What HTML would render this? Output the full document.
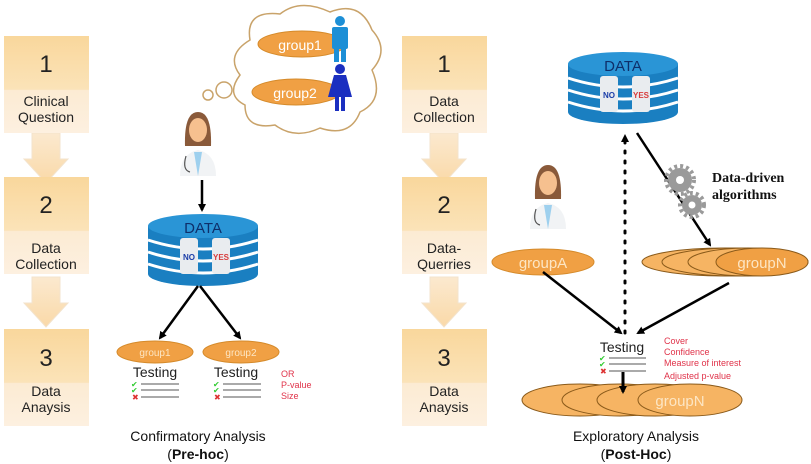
<!DOCTYPE html>
<html><head><meta charset="utf-8"><style>
html,body{margin:0;padding:0;background:#fff;}
svg{display:block;font-family:"Liberation Sans",sans-serif;}
</style></head><body>
<svg width="811" height="464" viewBox="0 0 811 464" xmlns="http://www.w3.org/2000/svg">
<defs>
<linearGradient id="bx" x1="0" y1="0" x2="0" y2="1">
<stop offset="0" stop-color="#f9d79c"/><stop offset="0.55" stop-color="#fbe3b8"/><stop offset="0.56" stop-color="#fcebd3"/><stop offset="1" stop-color="#fdf0e0"/></linearGradient>
<linearGradient id="ar" x1="0" y1="0" x2="0" y2="1"><stop offset="0" stop-color="#fbe9cf"/><stop offset="1" stop-color="#fad9a8"/></linearGradient>
<marker id="ah" markerWidth="8" markerHeight="8" refX="6" refY="4" orient="auto" markerUnits="userSpaceOnUse"><path d="M0,0 L8,4 L0,8 z" fill="#000"/></marker>
<g id="cyl">
<ellipse cx="55" cy="62" rx="55" ry="12" fill="#1a7fc1"/>
<rect x="0" y="14" width="110" height="48" fill="#1a7fc1"/>
<ellipse cx="55" cy="14" rx="55" ry="12" fill="#2a95d6"/>
<path d="M0,28 Q55,46 110,28" stroke="#fff" stroke-width="3" fill="none"/>
<path d="M0,40 Q55,58 110,40" stroke="#fff" stroke-width="3" fill="none"/>
<path d="M0,52 Q55,70 110,52" stroke="#fff" stroke-width="3" fill="none"/>
<text x="55" y="21" font-size="15" text-anchor="middle" fill="#0e2f6a">DATA</text>
<rect x="32" y="26" width="18" height="36" rx="3" fill="#e9ecef"/>
<rect x="64" y="26" width="18" height="36" rx="3" fill="#e9ecef"/>
<text x="41" y="48" font-size="8" font-weight="bold" text-anchor="middle" fill="#1a3da8">NO</text>
<text x="73" y="48" font-size="8" font-weight="bold" text-anchor="middle" fill="#d83a3a">YES</text>
</g>
<g id="doc">
<path d="M4,66 Q4,44 22,40 Q40,44 40,66 z" fill="#f1f3f5"/>
<path d="M9,36 Q8,2 22,2 Q36,2 35,36 z" fill="#8a5a3a"/>
<ellipse cx="22" cy="20" rx="9" ry="12" fill="#f6c08f"/>
<path d="M18,42 L22,66 L26,42 z" fill="#9ed0ee"/>
<path d="M10,46 Q6,60 14,62" stroke="#555" fill="none" stroke-width="1.2"/>
</g>
<g id="step">
<rect x="0" y="0" width="85" height="97" fill="url(#bx)"/>
</g>
<g id="sarr">
<path d="M8,0 L36,0 L36,26 L44,26 L22,50 L0,26 L8,26 z" fill="url(#ar)" stroke="#f3e3cc" stroke-width="1"/>
</g>
</defs>

<use href="#sarr" x="24" y="133"/>
<use href="#sarr" x="24" y="277"/>
<use href="#step" x="4" y="36"/>
<use href="#step" x="4" y="177"/>
<use href="#step" x="4" y="329"/>
<g font-size="14" text-anchor="middle" fill="#222">
<text x="46" y="72" font-size="24">1</text>
<text x="46" y="106">Clinical</text><text x="46" y="122">Question</text>
<text x="46" y="213" font-size="24">2</text>
<text x="46" y="253">Data</text><text x="46" y="269">Collection</text>
<text x="46" y="366" font-size="24">3</text>
<text x="46" y="396">Data</text><text x="46" y="412">Anaysis</text>
</g>

<use href="#sarr" x="422" y="133"/>
<use href="#sarr" x="422" y="277"/>
<use href="#step" x="402" y="36"/>
<use href="#step" x="402" y="177"/>
<use href="#step" x="402" y="329"/>
<g font-size="14" text-anchor="middle" fill="#222">
<text x="444" y="72" font-size="24">1</text>
<text x="444" y="106">Data</text><text x="444" y="122">Collection</text>
<text x="444" y="213" font-size="24">2</text>
<text x="444" y="253">Data-</text><text x="444" y="269">Querries</text>
<text x="444" y="366" font-size="24">3</text>
<text x="444" y="396">Data</text><text x="444" y="412">Anaysis</text>
</g>

<g fill="#fff" stroke="#c9a36a" stroke-width="1.5">
<circle cx="208" cy="95" r="5"/>
<circle cx="224" cy="90" r="8"/>
<path d="M250,40 Q245,10 280,14 Q300,-2 330,12 Q360,0 372,30 Q390,50 372,70 Q385,100 360,112 Q350,138 320,128 Q295,140 275,125 Q245,130 245,105 Q225,95 240,75 Q225,55 250,40 z"/>
</g>
<ellipse cx="302" cy="44" rx="44" ry="13" fill="#f0a044" stroke="#d58a2a"/>
<text x="300" y="50" font-size="14" fill="#fff" text-anchor="middle">group1</text>
<ellipse cx="296" cy="92" rx="44" ry="13" fill="#f0a044" stroke="#d58a2a"/>
<text x="295" y="98" font-size="14" fill="#fff" text-anchor="middle">group2</text>
<g fill="#1d8fd6"><circle cx="340" cy="21" r="5"/><rect x="332" y="27" width="16" height="22" rx="2"/><rect x="334" y="45" width="5" height="17"/><rect x="341" y="45" width="5" height="17"/></g>
<g fill="#1b2fc0"><circle cx="340" cy="69" r="5"/><path d="M334,75 L346,75 L352,97 L328,97 z"/><rect x="335" y="97" width="4" height="14"/><rect x="341" y="97" width="4" height="14"/></g>

<use href="#doc" x="176" y="110"/>
<line x1="202" y1="180" x2="202" y2="210" stroke="#000" stroke-width="2.5" marker-end="url(#ah)"/>
<use href="#cyl" x="148" y="212"/>
<line x1="198" y1="286" x2="160" y2="338" stroke="#000" stroke-width="2.5" marker-end="url(#ah)"/>
<line x1="200" y1="286" x2="240" y2="338" stroke="#000" stroke-width="2.5" marker-end="url(#ah)"/>
<ellipse cx="155" cy="352" rx="38" ry="11" fill="#f0a044" stroke="#d58a2a"/>
<text x="155" y="356" font-size="10" fill="#fde6c4" text-anchor="middle">group1</text>
<ellipse cx="241" cy="352" rx="38" ry="11" fill="#f0a044" stroke="#d58a2a"/>
<text x="241" y="356" font-size="10" fill="#fde6c4" text-anchor="middle">group2</text>
<g font-size="14" fill="#222" text-anchor="middle"><text x="155" y="377">Testing</text><text x="236" y="377">Testing</text></g>
<g stroke="#aaa" stroke-width="2"><line x1="141" y1="384" x2="179" y2="384"/><line x1="141" y1="390" x2="179" y2="390"/><line x1="141" y1="397" x2="179" y2="397"/>
<line x1="223" y1="384" x2="261" y2="384"/><line x1="223" y1="390" x2="261" y2="390"/><line x1="223" y1="397" x2="261" y2="397"/></g>
<g font-size="8"><text x="131" y="387" fill="#3c3">✔</text><text x="131" y="393" fill="#3c3">✔</text><text x="132" y="400" fill="#d33">✖</text>
<text x="213" y="387" fill="#3c3">✔</text><text x="213" y="393" fill="#3c3">✔</text><text x="214" y="400" fill="#d33">✖</text></g>
<g font-size="9" fill="#e0334a"><text x="281" y="377">OR</text><text x="281" y="388">P-value</text><text x="281" y="399">Size</text></g>
<text x="198" y="441" font-size="14" text-anchor="middle" fill="#111">Confirmatory Analysis</text>
<text x="198" y="459" font-size="14" text-anchor="middle" fill="#111">(<tspan font-weight="bold">Pre-hoc</tspan>)</text>

<use href="#cyl" x="568" y="50"/>
<line x1="625" y1="333" x2="625" y2="136" stroke="#000" stroke-width="3" stroke-dasharray="2,8" stroke-linecap="round" marker-end="url(#ah)"/>
<line x1="637" y1="133" x2="710" y2="245" stroke="#000" stroke-width="2.5" marker-end="url(#ah)"/>
<g fill="#9a9a9a"><circle cx="680" cy="180" r="12"/><circle cx="692" cy="205" r="10"/></g>
<g fill="none" stroke="#9a9a9a" stroke-width="4" stroke-dasharray="3,3"><circle cx="680" cy="180" r="14"/><circle cx="692" cy="205" r="12"/></g>
<circle cx="680" cy="180" r="4" fill="#fff"/><circle cx="692" cy="205" r="3.5" fill="#fff"/>
<text x="712" y="182" font-family="Liberation Serif,serif" font-weight="bold" font-size="14" fill="#111">Data-driven</text>
<text x="712" y="199" font-family="Liberation Serif,serif" font-weight="bold" font-size="14" fill="#111">algorithms</text>
<use href="#doc" x="526" y="163"/>
<g stroke="#8a5a1a" fill="#f6b463">
<ellipse cx="725" cy="262" rx="83" ry="14"/><ellipse cx="735" cy="262" rx="73" ry="14"/><ellipse cx="748" cy="262" rx="60" ry="14"/><ellipse cx="762" cy="262" rx="46" ry="14" fill="#f0a044"/>
</g>
<text x="762" y="268" font-size="15" fill="#fde6c4" text-anchor="middle">groupN</text>
<ellipse cx="543" cy="262" rx="51" ry="13" fill="#f0a044" stroke="#d58a2a"/>
<text x="543" y="268" font-size="15" fill="#fde6c4" text-anchor="middle">groupA</text>
<line x1="543" y1="272" x2="621" y2="333" stroke="#000" stroke-width="2.5" marker-end="url(#ah)"/>
<line x1="729" y1="283" x2="638" y2="333" stroke="#000" stroke-width="2.5" marker-end="url(#ah)"/>
<text x="622" y="352" font-size="14" fill="#222" text-anchor="middle">Testing</text>
<g stroke="#aaa" stroke-width="2"><line x1="609" y1="358" x2="646" y2="358"/><line x1="609" y1="364" x2="646" y2="364"/><line x1="609" y1="371" x2="646" y2="371"/></g>
<g font-size="8"><text x="599" y="361" fill="#3c3">✔</text><text x="599" y="367" fill="#3c3">✔</text><text x="600" y="374" fill="#d33">✖</text></g>
<g font-size="9" fill="#e0334a"><text x="664" y="344">Cover</text><text x="664" y="355">Confidence</text><text x="664" y="366">Measure of interest</text><text x="664" y="379">Adjusted p-value</text></g>
<g stroke="#8a5a1a" fill="#f6b463">
<ellipse cx="580" cy="400" rx="58" ry="16"/><ellipse cx="620" cy="400" rx="58" ry="16"/><ellipse cx="655" cy="400" rx="58" ry="16"/><ellipse cx="690" cy="400" rx="52" ry="16"/>
</g>
<line x1="623" y1="372" x2="623" y2="392" stroke="#000" stroke-width="3" marker-end="url(#ah)"/>
<text x="680" y="406" font-size="15" fill="#fde6c4" text-anchor="middle">groupN</text>
<text x="636" y="441" font-size="14" text-anchor="middle" fill="#111">Exploratory Analysis</text>
<text x="636" y="459" font-size="14" text-anchor="middle" fill="#111">(<tspan font-weight="bold">Post-Hoc</tspan>)</text>
</svg>
</body></html>
